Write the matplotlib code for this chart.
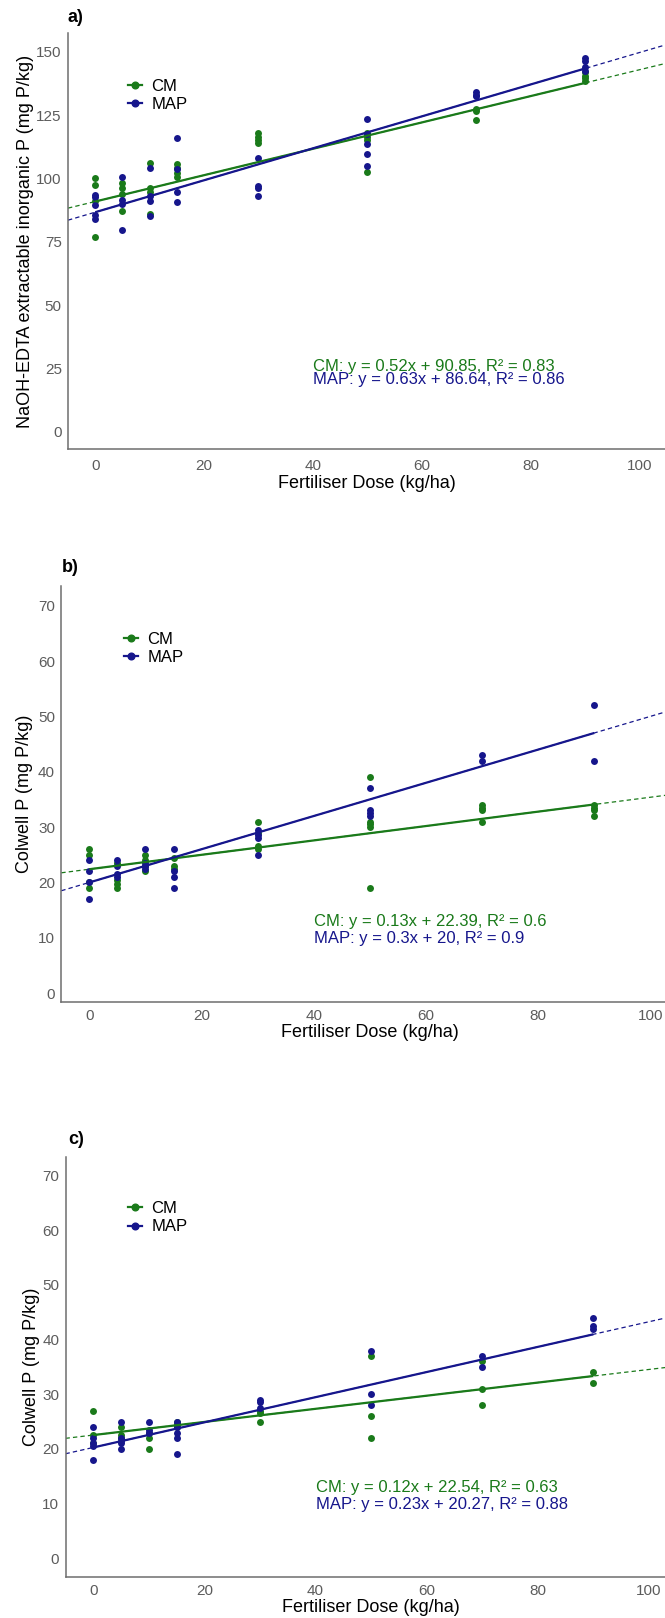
import matplotlib
matplotlib.use("Agg")
import matplotlib.pyplot as plt
from matplotlib.lines import Line2D
import numpy as np

plt.rcParams["font.family"] = ["Liberation Sans", "DejaVu Sans"]

W, H = 665, 1618
DPI = 100

GREEN = "#1a7a1a"
BLUE = "#16168c"
TICK_GREY = "#5c5c5c"
AXIS_GREY = "#6e6e6e"

# ---- Panel a: NaOH-EDTA extractable inorganic P ----
a_cm_dose = [0, 0, 0, 0, 5, 5, 5, 5, 10, 10, 10, 10, 15, 15, 15, 15,
             30, 30, 30, 30, 50, 50, 50, 50, 70, 70, 70, 90, 90, 90, 90]
a_cm_p = [100, 97.5, 91, 77, 98, 96, 94, 87, 106, 96, 94.5, 86, 105.5, 104, 102, 100.5,
          118, 116.5, 115, 114, 118, 116.5, 115, 102.5, 127.5, 126.5, 123,
          142, 140.5, 139.5, 138.5]
a_map_dose = [0, 0, 0, 0, 0, 5, 5, 5, 5, 10, 10, 10, 10, 15, 15, 15, 15,
              30, 30, 30, 30, 50, 50, 50, 50, 50, 70, 70, 70, 90, 90, 90, 90]
a_map_p = [93.5, 92.5, 89.5, 85.5, 84, 100.5, 91.5, 90, 79.5, 104, 93, 91, 85,
           116, 103.5, 94.5, 90.5, 108, 97, 96, 93, 123.5, 117.5, 113.5, 109.5, 105,
           134, 133, 132.5, 147.5, 146.5, 144, 142.5]
a_fit = {"CM": (0.52, 90.85, 0.83), "MAP": (0.63, 86.64, 0.86)}

# ---- Panel b: Colwell P ----
b_cm_dose = [0, 0, 0, 0, 5, 5, 5, 5, 10, 10, 10, 10, 15, 15, 15,
             30, 30, 30, 30, 50, 50, 50, 50, 50, 70, 70, 70, 70, 90, 90, 90, 90]
b_cm_p = [26, 25, 20, 19, 23.5, 20.5, 19.8, 19, 25, 24, 23, 22, 24.5, 23, 22.5,
          31, 29, 26.5, 26, 39, 31, 30.5, 30, 19, 34, 33.5, 33, 31, 34, 33.5, 33, 32]
b_map_dose = [0, 0, 0, 0, 5, 5, 5, 5, 10, 10, 10, 10, 15, 15, 15, 15,
              30, 30, 30, 30, 50, 50, 50, 50, 70, 70, 90, 90]
b_map_p = [24, 22, 20, 17, 24, 23, 21.5, 21, 26, 23.5, 23, 22.5, 26, 22, 21, 19,
           29.5, 28.5, 28, 25, 37, 33, 32.5, 32, 43, 42, 52, 42]
b_fit = {"CM": (0.13, 22.39, 0.6), "MAP": (0.3, 20, 0.9)}

# ---- Panel c: Colwell P ----
c_cm_dose = [0, 0, 0, 5, 5, 5, 10, 10, 10, 15, 15, 15, 30, 30, 30,
             50, 50, 50, 70, 70, 70, 90, 90]
c_cm_p = [27, 22.5, 21, 24, 22.5, 22, 23, 22, 20, 25, 24.5, 24, 27, 26.5, 25,
          37, 26, 22, 36, 31, 28, 34, 32]
c_map_dose = [0, 0, 0, 0, 0, 5, 5, 5, 5, 5, 10, 10, 10, 15, 15, 15, 15, 15,
              30, 30, 30, 50, 50, 50, 70, 70, 90, 90, 90]
c_map_p = [24, 22, 21, 20.5, 18, 25, 22, 21.5, 21, 20, 25, 23.5, 23, 25, 24, 23, 22, 19,
           29, 28.5, 27.5, 38, 30, 28, 37, 35, 44, 42.5, 42]
c_fit = {"CM": (0.12, 22.54, 0.63), "MAP": (0.23, 20.27, 0.88)}

X_TICKS = [0, 20, 40, 60, 80, 100]
A_Y_TICKS = [0, 25, 50, 75, 100, 125, 150]
BC_Y_TICKS = [0, 10, 20, 30, 40, 50, 60, 70]


def fmt_num(v):
    return f"{v:g}"


fig = plt.figure(figsize=(W / DPI, H / DPI), dpi=DPI)
fig.patch.set_facecolor("white")


def rect(left, right, top, bottom):
    return [left / W, 1 - bottom / H, (right - left) / W, (bottom - top) / H]


def panel(box, ylim, yticks, ylabel, cm_x, cm_y, map_x, map_y, fit,
          eq_x, eq_y, eq_dy, tag, tag_xy, leg_xy, ylab_x, xtick_pad, xlab_dy):
    ax = fig.add_axes(rect(*box))
    ax.set_xlim(-5, 105)
    ax.set_ylim(*ylim)
    ax.set_xticks(X_TICKS)
    ax.set_yticks(yticks)
    for s in ("top", "right"):
        ax.spines[s].set_visible(False)
    for s in ("left", "bottom"):
        ax.spines[s].set_color(AXIS_GREY)
        ax.spines[s].set_linewidth(1.1)
    ax.tick_params(length=0, labelsize=11, labelcolor=TICK_GREY)
    ax.tick_params(axis="y", pad=4.5)
    ax.tick_params(axis="x", pad=xtick_pad)

    ax.scatter(cm_x, cm_y, s=25, color=GREEN, zorder=3, linewidths=0)
    ax.scatter(map_x, map_y, s=25, color=BLUE, zorder=3, linewidths=0)

    xs_full = np.array([-5, 105])
    xs_fit = np.array([0, 90])
    for name, col in (("CM", GREEN), ("MAP", BLUE)):
        m, c, _ = fit[name]
        ax.plot(xs_full, m * xs_full + c, color=col, lw=0.9,
                dashes=(3.5, 2.5), zorder=2, clip_on=True)
        ax.plot(xs_fit, m * xs_fit + c, color=col, lw=1.6, zorder=4,
                solid_capstyle="butt")

    for i, (name, col) in enumerate((("CM", GREEN), ("MAP", BLUE))):
        m, c, r2 = fit[name]
        ax.text(eq_x, eq_y - i * eq_dy,
                f"{name}: y = {fmt_num(m)}x + {fmt_num(c)}, R\u00b2 = {fmt_num(r2)}",
                color=col, fontsize=12, ha="left", va="center", zorder=5)

    ax.set_xlabel("Fertiliser Dose (kg/ha)", fontsize=13, color="black")
    ax.xaxis.set_label_coords(0.5, -xlab_dy / (box[3] - box[2]))
    ax.xaxis.label.set_va("center")
    ax.set_ylabel(ylabel, fontsize=13, color="black")
    ax.yaxis.label.set_va("center")
    ax.yaxis.set_label_coords((ylab_x - box[0]) / (box[1] - box[0]), 0.5)

    handles = [Line2D([0], [0], color=GREEN, lw=1.6, marker="o", markersize=4.8),
               Line2D([0], [0], color=BLUE, lw=1.6, marker="o", markersize=4.8)]
    ax.legend(handles, ["CM", "MAP"], loc="center left",
              bbox_to_anchor=(leg_xy[0] / W, 1 - leg_xy[1] / H),
              bbox_transform=fig.transFigure, frameon=False, fontsize=12,
              handlelength=0.85, handletextpad=0.55, labelspacing=0.2,
              borderpad=0, borderaxespad=0)

    fig.text(tag_xy[0] / W, 1 - tag_xy[1] / H, tag, fontsize=13,
             fontweight="bold", ha="left", va="center")
    return ax


panel((68, 666.4, 32.7, 449.4), (-7, 157.5), A_Y_TICKS,
      "NaOH-EDTA extractable inorganic P (mg P/kg)",
      a_cm_dose, a_cm_p, a_map_dose, a_map_p, a_fit,
      40, 25.7, 5.0, "a)", (68, 17), (128, 95.3), 25, 7, 34)

panel((61.3, 678.4, 586.3, 1002), (-1.6, 73.5), BC_Y_TICKS,
      "Colwell P (mg P/kg)",
      b_cm_dose, b_cm_p, b_map_dose, b_map_p, b_fit,
      40, 13.0, 3.1, "b)", (62, 568), (124, 648.3), 25, 5, 30.6)

panel((65.5, 676.7, 1156.5, 1577.4), (-3.5, 73.5), BC_Y_TICKS,
      "Colwell P (mg P/kg)",
      c_cm_dose, c_cm_p, c_map_dose, c_map_p, c_fit,
      40, 12.9, 3.0, "c)", (68, 1139), (128, 1217.8), 32, 5, 30.6)

fig.savefig("out.png", dpi=DPI, facecolor="white")
